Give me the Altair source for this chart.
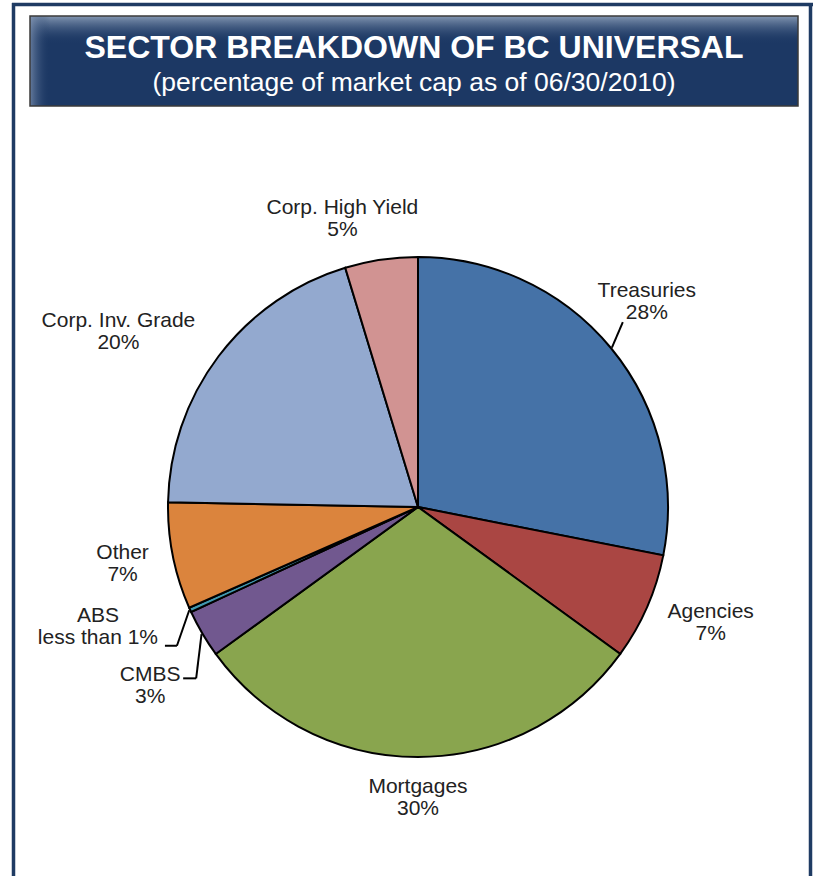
import altair as alt
import pandas as pd

# ---------------- data ----------------
names = ["Treasuries", "Agencies", "Mortgages", "CMBS", "ABS", "Other",
         "Corp. Inv. Grade", "Corp. High Yield"]
values = [28.1, 6.9, 30.0, 3.1, 0.3, 6.9, 20.0, 4.7]
pct_labels = ["28%", "7%", "30%", "3%", "less than 1%", "7%", "20%", "5%"]
colors = ["#4572A7", "#AA4643", "#89A54E", "#71588F", "#4198AF", "#DB843D",
          "#93A9CF", "#D19392"]
title_text = "SECTOR BREAKDOWN OF BC UNIVERSAL"
subtitle_text = "(percentage of market cap as of 06/30/2010)"

df = pd.DataFrame({
    "idx": list(range(len(names))),
    "name": names,
    "value": values,
    "pct": pct_labels,
})
df["label"] = df["name"] + "\n" + df["pct"]

# ---------------- layout ----------------
W, H = 813, 876
CX, CY, R = 418, 507, 250
FONT = "Liberation Sans"
NAVY = "#1F3B63"
LH = 22


def case(mapping, default=0):
    expr = str(default)
    for k, v in mapping.items():
        expr = f"(datum.name === '{k}' ? {v} : {expr})"
    return expr


nudge_x = case({"Treasuries": -34, "CMBS": -10, "ABS": -9})
nudge_y = case({"Treasuries": -20, "CMBS": 32})
lead_dx = case({"Treasuries": -24, "ABS": 67, "CMBS": 33})
lead_dy = case({"Treasuries": 20, "ABS": 19, "CMBS": -8})
elbow = case({"ABS": 12, "CMBS": 13})

one = pd.DataFrame({"k": [0]})

# ---------------- frame / title ----------------
border = alt.layer(
    alt.Chart(one).mark_rule(color=NAVY, strokeWidth=3.5).encode(
        x=alt.value(13.5), y=alt.value(3), y2=alt.value(H)),
    alt.Chart(one).mark_rule(color=NAVY, strokeWidth=3.5).encode(
        x=alt.value(12), x2=alt.value(W), y=alt.value(4.5)),
    alt.Chart(one).mark_rule(color=NAVY, strokeWidth=3.5).encode(
        x=alt.value(810.5), y=alt.value(3), y2=alt.value(H)),
)

box_base = alt.Chart(one).mark_rect(fill="#1C3864").encode(
    x=alt.value(30), x2=alt.value(798), y=alt.value(16), y2=alt.value(106))
box_top = alt.Chart(one).mark_rect(
    fill=alt.LinearGradient(
        gradient="linear", x1=0, x2=0, y1=0, y2=1,
        stops=[alt.GradientStop(offset=0, color="rgba(150,168,192,0.85)"),
               alt.GradientStop(offset=1, color="rgba(28,56,100,0)")])
).encode(x=alt.value(30), x2=alt.value(798), y=alt.value(16), y2=alt.value(44))
box_left = alt.Chart(one).mark_rect(
    fill=alt.LinearGradient(
        gradient="linear", x1=0, x2=1, y1=0, y2=0,
        stops=[alt.GradientStop(offset=0, color="rgba(130,150,180,0.7)"),
               alt.GradientStop(offset=1, color="rgba(28,56,100,0)")])
).encode(x=alt.value(30), x2=alt.value(50), y=alt.value(16), y2=alt.value(106))
box_outline = alt.Chart(one).mark_rect(
    filled=False, stroke="#3A3A3A", strokeWidth=1.5).encode(
    x=alt.value(30), x2=alt.value(798), y=alt.value(16), y2=alt.value(106))

title = alt.Chart(one).mark_text(
    text=title_text, font=FONT, fontSize=32, fontWeight="bold",
    color="white", align="center", baseline="alphabetic").encode(
    x=alt.value(414), y=alt.value(58))
subtitle = alt.Chart(one).mark_text(
    text=subtitle_text, font=FONT, fontSize=26.5, color="white",
    align="center", baseline="alphabetic").encode(
    x=alt.value(414), y=alt.value(91))

# ---------------- pie ----------------
pie = alt.Chart(df).mark_arc(
    outerRadius=R, stroke="black", strokeWidth=2).encode(
    theta=alt.Theta("value:Q", stack=True),
    color=alt.Color("name:N", scale=alt.Scale(domain=names, range=colors),
                    legend=None),
    order=alt.Order("idx:Q"),
    x=alt.value(CX), y=alt.value(CY),
)

geo = alt.Chart(df).transform_joinaggregate(
    total="sum(value)"
).transform_window(
    cum="sum(value)", sort=[alt.SortField("idx", order="ascending")],
    frame=[None, 0]
).transform_calculate(
    a="2*PI*(datum.cum - datum.value/2)/datum.total"
).transform_calculate(
    s="sin(datum.a)", c="cos(datum.a)",
    maxlen="max(length(datum.name), length(datum.pct))",
).transform_calculate(
    side="clamp(3*datum.s, -1, 1)",
).transform_calculate(
    lx=f"{CX} + 276*datum.s + datum.side*4.96*datum.maxlen + {nudge_x}",
    ly=f"{CY} - 291*datum.c + {nudge_y}",
)

labels = geo.mark_text(
    lineBreak="\n", align="center", baseline="middle", fontSize=21,
    lineHeight=LH, dy=-LH / 2, font=FONT, color="#222222").encode(
    x=alt.X("lx:Q", scale=None), y=alt.Y("ly:Q", scale=None),
    text="label:N")

leaders_base = geo.transform_filter(
    alt.FieldOneOfPredicate(field="name", oneOf=["Treasuries", "ABS", "CMBS"])
).transform_calculate(
    sx=f"{CX} + 251*datum.s", sy=f"{CY} - 251*datum.c",
    ex=f"datum.lx + {lead_dx}", ey=f"datum.ly + {lead_dy}",
).transform_calculate(
    bx=f"datum.ex + {elbow}", by="datum.ey",
)
lead1 = leaders_base.mark_rule(color="black", strokeWidth=2).encode(
    x=alt.X("sx:Q", scale=None), y=alt.Y("sy:Q", scale=None),
    x2="bx:Q", y2="by:Q")
lead2 = leaders_base.mark_rule(color="black", strokeWidth=2).encode(
    x=alt.X("bx:Q", scale=None), y=alt.Y("by:Q", scale=None),
    x2="ex:Q", y2="ey:Q")

chart = alt.layer(
    border, box_base, box_top, box_left, box_outline, title, subtitle,
    pie, lead1, lead2, labels
).properties(
    width=W, height=H, autosize="none", padding=0, background="white"
).configure_view(stroke=None)

chart.save("out.html", embed_options={"renderer": "svg", "actions": False})
